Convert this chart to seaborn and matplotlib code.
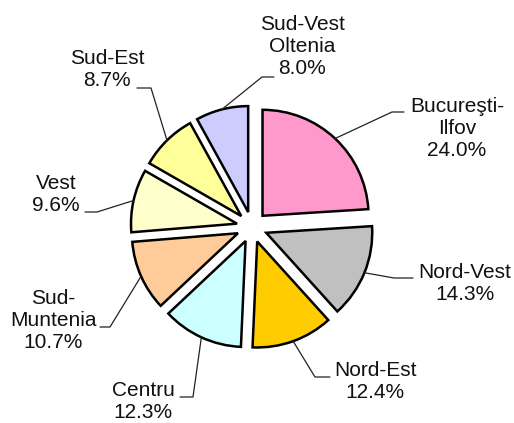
import matplotlib
matplotlib.use("Agg")
import matplotlib.pyplot as plt
import seaborn as sns
import numpy as np

# data
regions = ['Bucureşti-\nIlfov', 'Nord-Vest', 'Nord-Est', 'Centru',
           'Sud-\nMuntenia', 'Vest', 'Sud-Est', 'Sud-Vest\nOltenia']
shares = [24.0, 14.3, 12.4, 12.3, 10.7, 9.6, 8.7, 8.0]
colours = ['#FF99CC', '#C0C0C0', '#FFCC00', '#CCFFFF',
           '#FFCC99', '#FFFFCC', '#FFFF99', '#CCCCFF']

# label layout in pixels: text centre, elbow point, end of horizontal tick
text_pos = [(457, 129), (465, 284), (375, 382), (143, 402),
            (53, 321), (56, 195), (107, 70), (302, 47)]
elbow_pos = [(392, 112), (394, 278), (315, 377), (193, 397),
             (110, 327), (97, 212), (151, 88), (262, 77)]
tick_end = [(404, 112), (413, 278), (330, 377), (180, 397),
            (100, 327), (85, 212), (137, 88), (274, 77)]

sns.set_theme(style='white')
plt.rcParams['font.family'] = ['Liberation Sans', 'DejaVu Sans']

W, H = 514, 423
cx, cy, R = 252, 227, 106


def px(p):
    # pixel position -> data coordinates (pie radius = 1)
    return (p[0] - cx) / R, (cy - p[1]) / R


fig = plt.figure(figsize=(W / 100, H / 100), dpi=100)
ax = fig.add_axes([0, 0, 1, 1])

wedges, _ = ax.pie(shares, colors=colours, explode=[0.145] * len(shares),
                   startangle=90, counterclock=False,
                   wedgeprops=dict(edgecolor='black', linewidth=1.8))

for i, w in enumerate(wedges):
    mid = np.deg2rad((w.theta1 + w.theta2) / 2)
    anchor = (w.center[0] + w.r * np.cos(mid), w.center[1] + w.r * np.sin(mid))
    ex, ey = px(elbow_pos[i])
    tx, ty = px(tick_end[i])
    ax.plot([anchor[0], ex, tx], [anchor[1], ey, ty], color='#222222', lw=0.9)
    lx, ly = px(text_pos[i])
    ax.text(lx, ly, f"{regions[i]}\n{shares[i]:.1f}%", ha='center', va='center',
            multialignment='center', fontsize=15, color='#111111', linespacing=1.2)

ax.set_xlim(-cx / R, (W - cx) / R)
ax.set_ylim(-(H - cy) / R, cy / R)
ax.set_aspect('equal')
ax.axis('off')

fig.savefig('out.png', dpi=100)
